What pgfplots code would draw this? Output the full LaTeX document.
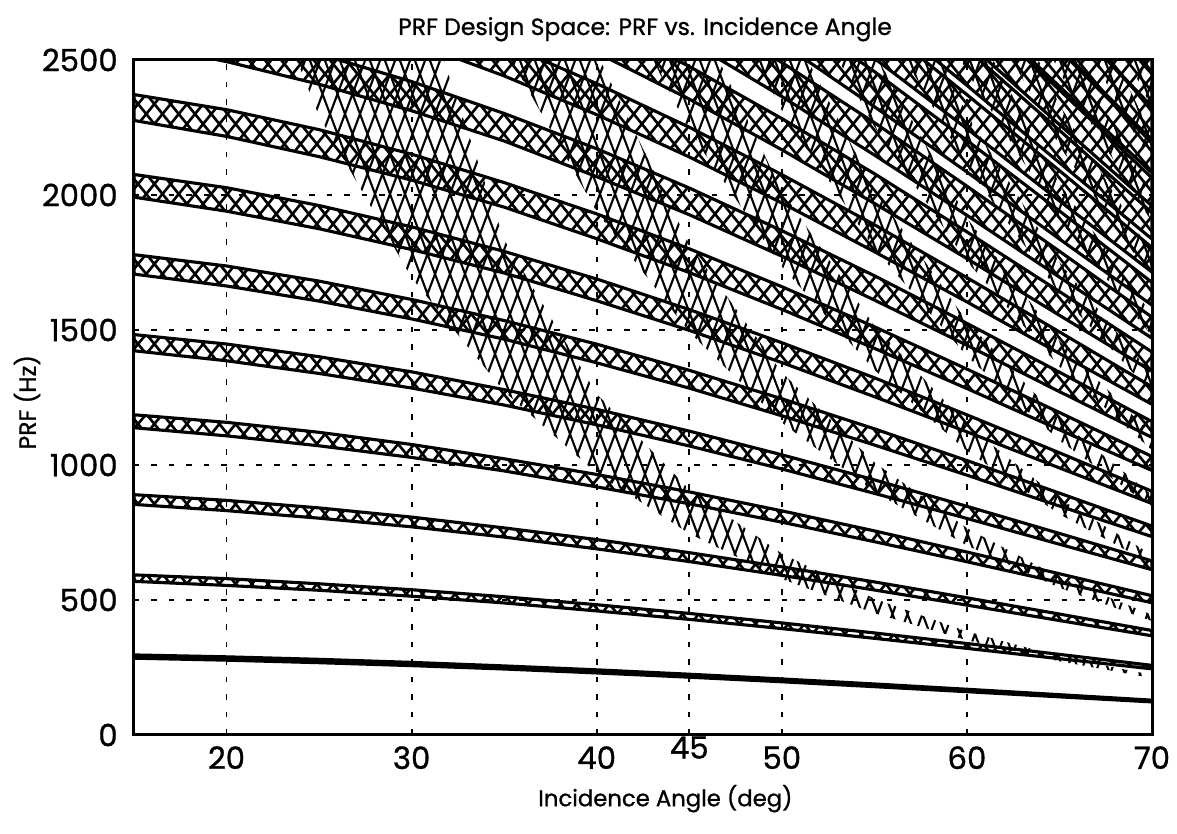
\documentclass[border=0pt]{standalone}
\usepackage{fontspec}
\setmainfont{Poppins}[FakeBold=1]
\usepackage{pgfplots}
\pgfplotsset{compat=1.18}
\usetikzlibrary{patterns,calc}

\pgfdeclarepatternformonly{bandx}{\pgfqpoint{-1pt}{-1pt}}{\pgfqpoint{7.5pt}{9pt}}{\pgfqpoint{6.5pt}{8pt}}{%
  \pgfsetlinewidth{1.05pt}%
  \pgfpathmoveto{\pgfqpoint{0pt}{0pt}}\pgfpathlineto{\pgfqpoint{6.5pt}{8pt}}%
  \pgfpathmoveto{\pgfqpoint{0pt}{8pt}}\pgfpathlineto{\pgfqpoint{6.5pt}{0pt}}%
  \pgfusepath{stroke}}
\pgfdeclarepatternformonly{nadirx}{\pgfqpoint{-1pt}{-1pt}}{\pgfqpoint{7pt}{17pt}}{\pgfqpoint{6pt}{16pt}}{%
  \pgfsetlinewidth{0.85pt}%
  \pgfpathmoveto{\pgfqpoint{0pt}{0pt}}\pgfpathlineto{\pgfqpoint{6pt}{16pt}}%
  \pgfpathmoveto{\pgfqpoint{0pt}{16pt}}\pgfpathlineto{\pgfqpoint{6pt}{0pt}}%
  \pgfusepath{stroke}}

\begin{document}
\begin{tikzpicture}
\begin{axis}[
  width=407.2pt, height=270pt, scale only axis,
  xmin=15, xmax=70, ymin=0, ymax=2500,
  xtick={20,30,40,50,60,70},
  extra x ticks={45},
  extra x tick style={grid=major, xticklabel style={yshift=4pt}},
  ytick={0,500,1000,1500,2000,2500},
  grid=major,
  major grid style={black, line width=0.75pt, dash pattern=on 2.2pt off 4.8pt},
  tick style={draw=none},
  axis line style={line width=1.2pt},
  /pgf/number format/assume math mode=true,
  /pgf/number format/1000 sep={},
  ticklabel style={font=\fontsize{12.3}{14}\selectfont},
  x tick label style={yshift=-1pt},
  y tick label style={xshift=-3pt},
  title={PRF Design Space: PRF vs. Incidence Angle},
  title style={at={(0.502,1)}, anchor=base, yshift=4pt, font=\fontsize{9.4}{11}\selectfont},
  xlabel={Incidence Angle (deg)},
  xlabel style={at={(0.522,0)}, anchor=base, yshift=-28.5pt, font=\fontsize{9.1}{11}\selectfont},
  ylabel={PRF (Hz)},
  ylabel style={at={(-0.0965,0.493)}, anchor=base, font=\fontsize{9.4}{11}\selectfont},
]
% ---- transmit interference bands, n = 1..20
\addplot[draw=black, line width=1.25pt, pattern=bandx] coordinates {(15,296.5)(20,289.5)(25,280.2)(30,268.9)(35,255.8)(40,241.3)(45,225.1)(50,207.6)(55,189)(60,169.4)(65,149.3)(70,129)(70,122.5)(65,141.3)(60,160.4)(55,179)(50,197.1)(45,214.1)(40,229.8)(35,244.4)(30,256.9)(25,267.8)(20,277.1)(15,284.5)} -- cycle;
\addplot[draw=black, line width=1.25pt, pattern=bandx] coordinates {(15,593)(20,579)(25,560)(30,538)(35,512)(40,482.5)(45,450.2)(50,415.1)(55,378)(60,338.8)(65,298.6)(70,257.9)(70,244.9)(65,282.6)(60,320.8)(55,358)(50,394.1)(45,428.2)(40,459.5)(35,489)(30,514)(25,536)(20,554)(15,569)} -- cycle;
\addplot[draw=black, line width=1.25pt, pattern=bandx] coordinates {(15,890)(20,869)(25,841)(30,807)(35,767)(40,723.8)(45,675.3)(50,622.7)(55,567)(60,508.2)(65,447.9)(70,386.9)(70,367.4)(65,423.9)(60,481.2)(55,537)(50,591.2)(45,642.3)(40,689.3)(35,733)(30,771)(25,803)(20,831)(15,854)} -- cycle;
\addplot[draw=black, line width=1.25pt, pattern=bandx] coordinates {(15,1186)(20,1158)(25,1121)(30,1076)(35,1023)(40,965)(45,900.4)(50,830.2)(55,756)(60,677.6)(65,597.2)(70,515.8)(70,489.8)(65,565.2)(60,641.6)(55,716)(50,788.2)(45,856.4)(40,919)(35,978)(30,1028)(25,1071)(20,1108)(15,1138)} -- cycle;
\addplot[draw=black, line width=1.25pt, pattern=bandx] coordinates {(15,1483)(20,1448)(25,1401)(30,1345)(35,1279)(40,1206.3)(45,1125.5)(50,1037.8)(55,945)(60,847)(65,746.5)(70,644.8)(70,612.3)(65,706.5)(60,802)(55,895)(50,985.3)(45,1070.5)(40,1148.8)(35,1222)(30,1285)(25,1339)(20,1386)(15,1423)} -- cycle;
\addplot[draw=black, line width=1.25pt, pattern=bandx] coordinates {(15,1779)(20,1737)(25,1681)(30,1613)(35,1535)(40,1447.5)(45,1350.6)(50,1245.3)(55,1134)(60,1016.4)(65,895.8)(70,773.7)(70,734.7)(65,847.8)(60,962.4)(55,1074)(50,1182.3)(45,1284.6)(40,1378.5)(35,1466)(30,1541)(25,1607)(20,1663)(15,1707)} -- cycle;
\addplot[draw=black, line width=1.25pt, pattern=bandx] coordinates {(15,2076)(20,2027)(25,1961)(30,1882)(35,1791)(40,1688.8)(45,1575.7)(50,1452.9)(55,1323)(60,1185.8)(65,1045.1)(70,902.7)(70,857.2)(65,989.1)(60,1122.8)(55,1253)(50,1379.4)(45,1498.7)(40,1608.3)(35,1711)(30,1798)(25,1875)(20,1940)(15,1992)} -- cycle;
\addplot[draw=black, line width=1.25pt, pattern=bandx] coordinates {(15,2372)(20,2316)(25,2242)(30,2151)(35,2046)(40,1930)(45,1800.8)(50,1660.4)(55,1512)(60,1355.2)(65,1194.4)(70,1031.6)(70,979.6)(65,1130.4)(60,1283.2)(55,1432)(50,1576.4)(45,1712.8)(40,1838)(35,1955)(30,2055)(25,2142)(20,2217)(15,2276)} -- cycle;
\addplot[draw=black, line width=1.25pt, pattern=bandx] coordinates {(15,2669)(20,2606)(25,2522)(30,2420)(35,2302)(40,2171.3)(45,2025.9)(50,1868)(55,1701)(60,1524.6)(65,1343.7)(70,1160.6)(70,1102.1)(65,1271.7)(60,1443.6)(55,1611)(50,1773.5)(45,1926.9)(40,2067.8)(35,2200)(30,2312)(25,2410)(20,2494)(15,2561)} -- cycle;
\addplot[draw=black, line width=1.25pt, pattern=bandx] coordinates {(30,2690)(35,2561)(40,2412.5)(45,2251)(50,2075.5)(55,1890)(60,1694)(65,1493)(70,1289.5)(70,1224.5)(65,1413)(60,1604)(55,1790)(50,1970.5)(45,2141)(40,2297.5)(35,2441)(30,2568)} -- cycle;
\addplot[draw=black, line width=1.25pt, pattern=bandx] coordinates {(40,2653.8)(45,2476.1)(50,2283.1)(55,2079)(60,1863.4)(65,1642.3)(70,1418.5)(70,1347)(65,1554.3)(60,1764.4)(55,1969)(50,2167.6)(45,2355.1)(40,2527.3)} -- cycle;
\addplot[draw=black, line width=1.25pt, pattern=bandx] coordinates {(45,2701.2)(50,2490.6)(55,2268)(60,2032.8)(65,1791.6)(70,1547.4)(70,1469.4)(65,1695.6)(60,1924.8)(55,2148)(50,2364.6)(45,2569.2)} -- cycle;
\addplot[draw=black, line width=1.25pt, pattern=bandx] coordinates {(50,2698.2)(55,2457)(60,2202.2)(65,1940.9)(70,1676.4)(70,1591.9)(65,1836.9)(60,2085.2)(55,2327)(50,2561.7)} -- cycle;
\addplot[draw=black, line width=1.25pt, pattern=bandx] coordinates {(55,2646)(60,2371.6)(65,2090.2)(70,1805.3)(70,1714.3)(65,1978.2)(60,2245.6)(55,2506)} -- cycle;
\addplot[draw=black, line width=1.25pt, pattern=bandx] coordinates {(55,2835)(60,2541)(65,2239.5)(70,1934.3)(70,1836.8)(65,2119.5)(60,2406)(55,2685)} -- cycle;
\addplot[draw=black, line width=1.25pt, pattern=bandx] coordinates {(60,2710.4)(65,2388.8)(70,2063.2)(70,1959.2)(65,2260.8)(60,2566.4)} -- cycle;
\addplot[draw=black, line width=1.25pt, pattern=bandx] coordinates {(60,2879.8)(65,2538.1)(70,2192.2)(70,2081.7)(65,2402.1)(60,2726.8)} -- cycle;
\addplot[draw=black, line width=1.25pt, pattern=bandx] coordinates {(65,2687.4)(70,2321.1)(70,2204.1)(65,2543.4)} -- cycle;
\addplot[draw=black, line width=1.25pt, pattern=bandx] coordinates {(65,2836.7)(70,2450.1)(70,2326.6)(65,2684.7)} -- cycle;
\addplot[draw=black, line width=1.25pt, pattern=bandx] coordinates {(65,2986)(70,2579)(70,2449)(65,2826)} -- cycle;
% ---- nadir interference regions, k = 1..11
\addplot[draw=none, pattern=nadirx] coordinates {(20,13038)(25,5094)(30,2851)(35,1834)(40,1263)(45,909)(50,672)(55,505)(60,383)(65,292)(70,222)(70,211)(65,273)(60,351)(55,451)(50,578)(45,746)(40,969)(35,1273)(30,1693)(25,2292)(20,3158)} -- cycle;
\addplot[draw=none, pattern=nadirx] coordinates {(35,3668)(40,2525)(45,1817)(50,1343)(55,1010)(60,766)(65,584)(70,445)(70,422)(65,545)(60,702)(55,901)(50,1157)(45,1492)(40,1938)(35,2547)} -- cycle;
\addplot[draw=none, pattern=nadirx] coordinates {(40,3788)(45,2726)(50,2015)(55,1515)(60,1149)(65,875)(70,667)(70,633)(65,818)(60,1052)(55,1352)(50,1735)(45,2238)(40,2907)} -- cycle;
\addplot[draw=none, pattern=nadirx] coordinates {(45,3634)(50,2686)(55,2020)(60,1532)(65,1167)(70,889)(70,844)(65,1091)(60,1403)(55,1802)(50,2313)(45,2984)} -- cycle;
\addplot[draw=none, pattern=nadirx] coordinates {(50,3358)(55,2526)(60,1915)(65,1459)(70,1112)(70,1055)(65,1364)(60,1754)(55,2253)(50,2892)} -- cycle;
\addplot[draw=none, pattern=nadirx] coordinates {(55,3031)(60,2298)(65,1751)(70,1334)(70,1266)(65,1636)(60,2105)(55,2703)} -- cycle;
\addplot[draw=none, pattern=nadirx] coordinates {(55,3536)(60,2681)(65,2043)(70,1556)(70,1477)(65,1909)(60,2456)(55,3154)} -- cycle;
\addplot[draw=none, pattern=nadirx] coordinates {(60,3064)(65,2334)(70,1778)(70,1688)(65,2182)(60,2806)} -- cycle;
\addplot[draw=none, pattern=nadirx] coordinates {(60,3447)(65,2626)(70,2001)(70,1899)(65,2454)(60,3157)} -- cycle;
\addplot[draw=none, pattern=nadirx] coordinates {(65,2918)(70,2223)(70,2110)(65,2727)} -- cycle;
\addplot[draw=none, pattern=nadirx] coordinates {(65,3210)(70,2445)(70,2321)(65,3000)} -- cycle;
\end{axis}
\pgfresetboundingbox
\path[use as bounding box] ($(current axis.south west)+(-53.6pt,-39.6pt)$) rectangle ($(current axis.north east)+(10pt,24pt)$);
\end{tikzpicture}
\end{document}
